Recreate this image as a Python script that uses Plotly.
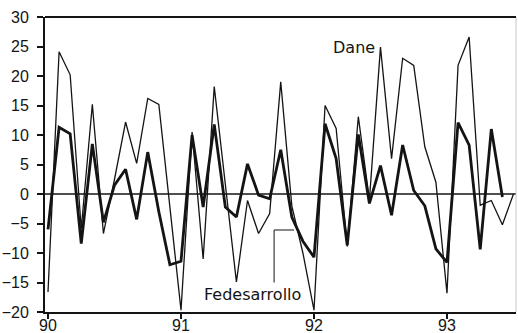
import plotly.graph_objects as go

# Monthly growth rates, January 1990 onward (percent)
dane = [
    -16.6, 24.1, 20.2, -5.9, 15.2, -6.7, 2.5, 12.2, 5.2, 16.2, 15.2, -2.0,
    -19.7, 10.5, -11.0, 18.2, 1.5, -14.9, -1.1, -6.7, -3.3, 19.0, -2.0, -10.0,
    -19.7, 15.0, 11.1, -8.9, 13.1, -1.0, 24.9, 6.0, 23.0, 21.8, 8.0, 2.0,
    -16.8, 21.8, 26.6, -1.9, -1.1, -5.2, 0.0,
]
fedesarrollo = [
    -6.0, 11.3, 10.2, -8.4, 8.5, -4.8, 1.5, 4.2, -4.3, 7.1, -3.0, -12.0,
    -11.4, 10.0, -2.2, 11.8, -2.2, -3.9, 5.1, -0.2, -0.8, 7.5, -3.9, -8.0,
    -10.7, 11.9, 6.0, -8.7, 10.1, -1.6, 4.8, -3.6, 8.3, 0.6, -2.0, -9.3,
    -11.6, 12.1, 8.3, -9.4, 11.0, -0.5,
]
start_year = 1990
year_ticks = [1990, 1991, 1992, 1993]
year_labels = ["90", "91", "92", "93"]
y_ticks = list(range(-20, 31, 5))


def month_positions(values):
    return [start_year + i / 12 for i in range(len(values))]


ink = "#141414"
font_family = "Liberation Sans, Arial, sans-serif"

fig = go.Figure()
fig.add_trace(go.Scatter(
    x=month_positions(dane), y=dane, mode="lines", name="Dane",
    line=dict(color=ink, width=1.3), showlegend=False,
))
fig.add_trace(go.Scatter(
    x=month_positions(fedesarrollo), y=fedesarrollo, mode="lines",
    name="Fedesarrollo", line=dict(color=ink, width=2.8), showlegend=False,
))

# zero line
fig.add_hline(y=0, line=dict(color=ink, width=1.5), layer="below")

# leader bracket for the Fedesarrollo label
fig.add_shape(type="path", xref="x", yref="y",
              path="M 1991.70,-15.0 L 1991.70,-6.1 L 1991.85,-6.1",
              line=dict(color=ink, width=1))

# light right edge of the frame
fig.add_shape(type="line", xref="paper", yref="paper", x0=1, x1=1, y0=0, y1=1,
              line=dict(color="#c8c8c8", width=1))

fig.add_annotation(x=1992.30, y=24.8, text="Dane", showarrow=False,
                   xanchor="center", yanchor="middle",
                   font=dict(family="DejaVu Sans, sans-serif", size=16, color=ink))
fig.add_annotation(x=1991.535, y=-17.1, text="Fedesarrollo", showarrow=False,
                   xanchor="center", yanchor="middle",
                   font=dict(family="DejaVu Sans, sans-serif", size=16, color=ink))

fig.update_xaxes(
    range=[1989.9774, 1993.519], tickvals=year_ticks, ticktext=year_labels,
    ticks="outside", ticklen=5, tickwidth=1.5, tickcolor=ink,
    showline=True, linecolor=ink, linewidth=2, showgrid=False, zeroline=False,
    ticklabelstandoff=-7,
    tickfont=dict(family=font_family, size=16, color=ink), automargin=False,
)
fig.update_yaxes(
    range=[-20, 30], tickvals=y_ticks, ticks="outside", ticklen=6,
    tickwidth=1.5, tickcolor=ink, showline=True, linecolor=ink, linewidth=2,
    showgrid=False, zeroline=False, ticklabelstandoff=5,
    tickfont=dict(family=font_family, size=16, color=ink), automargin=False,
)
fig.add_shape(type="line", xref="paper", yref="paper", x0=0, x1=1, y0=1, y1=1,
              line=dict(color=ink, width=2))

fig.update_layout(
    width=518, height=333,
    margin=dict(l=45, r=2, t=17, b=21),
    plot_bgcolor="white", paper_bgcolor="white",
)

fig.write_html("out.html")
